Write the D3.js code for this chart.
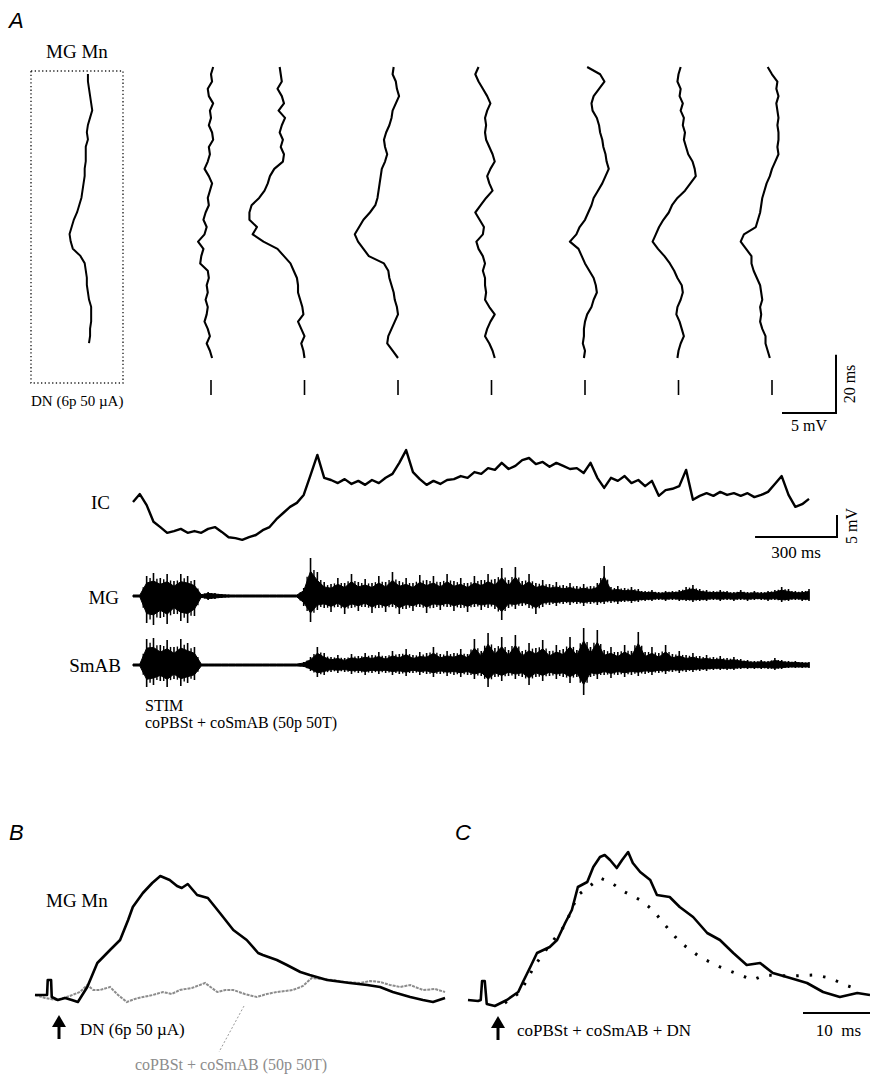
<!DOCTYPE html>
<html>
<head>
<meta charset="utf-8">
<script src="https://cdn.jsdelivr.net/npm/d3@7"></script>
<style>
  body { margin: 0; background: #fff; }
  svg { display: block; }
  .serif { font-family: "Liberation Serif", "Times New Roman", serif; fill: #000; }
  .panel { font-family: "Liberation Sans", Arial, sans-serif; font-style: italic; font-size: 22px; }
</style>
</head>
<body>
<div id="fig"></div>
<script>
// ---- A (top): single sweeps, membrane potential in mV vs rest, one value every 2.5 ms
var avgMn = [-0.1,-0.1,0,0.1,0.2,0.3,0.1,-0.1,-0.2,-0.1,-0.3,-0.3,-0.3,-0.4,-0.4,-0.5,-0.6,-0.7,-0.9,
  -1.1,-1.4,-1.6,-1.8,-1.7,-1.5,-0.8,-0.4,-0.3,-0.2,-0.2,-0.1,0,0.2,0.2,0.2,0.1,0.1,0];
var trial1 = [0.2,0,0.1,-0.3,-0.2,0.2,-0.1,0,-0.2,0.1,0.2,-0.2,-0.1,-0.3,-0.6,-0.2,0.1,-0.1,-0.3,-0.2,
  -0.5,-0.7,-0.4,-0.6,-1.2,-0.7,-0.9,-1.0,-0.3,-0.2,-0.4,-0.3,-0.5,-0.3,-0.4,-0.6,-0.3,-0.1,-0.4,-0.1,0.1];
var trial2 = [-2.3,-2.2,-2.1,-2.5,-2.1,-1.9,-2.4,-1.8,-2.1,-2.3,-2.0,-2.2,-1.9,-2.0,-2.8,-3.2,-3.4,-3.7,-4.2,-4.9,
  -5.1,-5.1,-4.4,-4.8,-3.8,-2.5,-1.9,-1.3,-1.0,-0.7,-0.6,-0.6,-0.4,-0.2,-0.1,-0.6,-0.3,0,-0.3,-0.1,0];
var trial3 = [-0.4,-0.5,-0.2,-0.1,0.1,-0.2,-0.5,-0.6,-0.8,-1.1,-1.3,-1.2,-1.0,-1.2,-1.5,-1.6,-1.7,-1.8,-1.9,-2.1,
  -2.6,-3.2,-3.6,-4.0,-3.7,-3.2,-2.7,-1.3,-0.9,-0.8,-0.6,-0.4,-0.3,-0.1,0,-0.3,-0.6,-0.9,-1.0,-0.5,0];
var trial4 = [-1.2,-1.5,-1.2,-0.8,-0.4,-0.1,-0.4,-0.6,-0.5,-0.6,-0.5,-0.2,0.1,0.3,-0.1,-0.4,-0.2,0.1,-0.5,-1.0,
  -1.5,-1.1,-0.7,-0.8,-1.4,-1.2,-0.8,-0.6,-0.8,-0.6,-0.6,-0.5,-0.6,-0.2,0.3,-0.1,-0.4,-0.6,-0.2,0.1,0.3];
var trial5 = [0.2,1.4,1.8,1.3,0.8,0.6,0.7,1.1,1.3,1.4,1.6,1.7,1.9,2.0,2.2,1.9,1.6,1.2,0.8,0.6,
  0.3,0,-0.5,-0.8,-1.4,-0.6,-0.3,0,0.4,0.8,1.0,1.1,0.8,0.6,0.2,0,-0.1,-0.1,-0.2,0,-0.1];
var trial6 = [0.2,0,-0.1,0.2,0.1,0.4,0.2,0.5,0.4,0.6,0.5,0.7,0.9,1.3,1.5,1.6,1.1,0.6,-0.1,-0.6,
  -0.9,-1.4,-1.8,-2.1,-2.4,-1.9,-1.3,-0.8,-0.4,-0.1,0.3,0.4,0.2,-0.1,-0.2,0.1,0.3,0.5,0.2,0,-0.1];
var trial7 = [-0.4,0,0.5,0.4,0.6,0.4,0.5,0.6,0.5,0.6,0.6,0.5,0.6,0.3,0,-0.2,-0.5,-0.7,-0.9,-1.0,
  -1.1,-1.3,-1.5,-2.6,-2.9,-2.4,-1.9,-1.9,-1.7,-1.4,-1.1,-1.0,-0.9,-1.1,-1.0,-1.1,-0.9,-0.6,-0.6,-0.4,-0.2];
var trials = [trial1, trial2, trial3, trial4, trial5, trial6, trial7];
var sweepStep = 2.5; // ms

// ---- A (bottom): intracellular record, mV, one value every 25 ms
var icTrace = [0,1.8,-0.7,-4.5,-5.7,-7.0,-6.6,-6.1,-7.0,-6.6,-7.0,-6.1,-5.7,-6.8,-8.0,-8.2,-8.6,-8.0,-7.5,-6.4,
  -5.7,-3.9,-2.5,-1.1,-0.2,1.6,6.1,10.7,5.5,5.0,4.3,5.2,4.1,4.8,3.9,5.0,4.3,5.5,6.4,8.9,
  11.8,6.8,5.2,3.9,4.8,4.1,5.0,5.2,5.9,5.5,6.8,6.4,7.7,7.3,8.9,7.5,8.2,9.5,10.0,8.6,
  9.1,8.0,8.9,8.2,7.5,7.7,6.6,8.9,5.5,3.2,5.5,4.8,5.9,4.3,5.0,3.6,4.8,1.4,2.7,3.0,
  3.6,7.3,0.5,1.4,2.0,1.4,2.3,1.6,2.0,1.4,2.0,1.1,1.6,2.3,4.1,5.9,1.6,-1.1,-0.5,0.7];
var icStep = 25; // ms

// ENG envelopes (a.u.), same 25 ms grid: positive and negative excursions
var mgUp = [0,1,20,23,18,22,15,22,20,16,2,4,3,2,1.5,1,1,1,1,1,1,1,1,1,1,8,38,24,14,12,18,13,22,14,17,13,20,14,24,15,
  18,13,21,16,20,14,22,15,18,13,20,16,22,17,28,16,29,15,22,13,16,12,14,11,13,10,12,10,13,30,
  9,10,8,9,7,5,6,4,5,5,6,9,11,7,6,5,6,5,4,6,4,5,4,5,6,9,7,5,5,7];
var mgDown = [0,1,27,29,22,28,18,25,27,20,2,4,3,2,1.5,1,1,1,1,1,1,1,1,1,1,10,26,14,12,16,11,18,12,15,11,17,12,16,11,18,
  13,15,11,17,12,14,11,15,12,16,11,14,12,13,24,12,13,10,12,18,11,9,10,8,9,8,10,8,9,8,
  7,8,6,7,6,5,5,4,5,4,5,5,6,5,5,4,5,4,5,4,5,4,4,5,4,6,5,4,5,5];
var smabUp = [0,1,26,27,20,25,18,26,22,18,1,1,1,1,1,1,1,1,1,1,1,1,1,1,1,3,8,18,12,8,10,7,11,9,12,10,13,9,14,11,
  16,10,13,12,18,11,14,12,16,11,26,14,32,17,28,15,30,14,22,17,25,14,20,16,28,15,37,18,35,15,
  18,13,20,14,33,13,18,12,20,11,14,10,12,9,10,8,9,7,8,6,5,4,5,4,7,5,4,4,3,3];
var smabDown = [0,1,22,20,16,22,14,21,18,15,1,1,1,1,1,1,1,1,1,1,1,1,1,1,1,2,6,12,10,7,8,7,9,8,10,8,9,8,10,9,
  11,8,10,9,12,9,11,10,12,10,14,11,22,12,16,11,14,12,20,12,16,11,14,12,18,12,30,12,14,10,
  13,10,12,10,11,9,10,8,9,7,8,7,7,6,6,5,5,5,5,4,4,4,4,4,5,4,3,3,3,3];

// ---- B and C: [ms after sweep start, mV]
var bDN = [[0,0.2],[1.8,0.2],[1.9,1.7],[2.4,1.7],[2.5,0],[3.4,-0.3],[4.5,-0.1],[5.5,-0.3],[6.4,-0.5],[7.8,1.0],
  [9.3,3.4],[11.2,4.7],[12.7,5.7],[13.9,7.7],[14.6,9.0],[16.1,10.4],[17.5,11.4],[18.7,12.1],[20.1,11.7],[21.2,11.1],
  [21.9,10.9],[22.8,11.3],[24.2,10.2],[25.8,9.9],[27.6,8.4],[29.6,6.7],[31.6,5.7],[33.3,4.4],[34.0,4.2],[36.1,3.7],
  [37.6,3.2],[39.6,2.5],[41.0,2.2],[43.6,1.7],[47.0,1.4],[49.6,1.2],[51.5,1.0],[53.4,0.5],[56.0,0],[57.9,-0.3],
  [59.4,-0.5],[61.2,-0.1]];
var bStim = [[0,0.2],[1.5,-0.1],[3.3,-0.3],[5.2,0.1],[6.7,0.5],[7.8,1.2],[8.7,0.7],[9.7,0.7],[11.2,1.0],[12.4,0.2],
  [13.7,-0.5],[14.9,-0.2],[16.1,0],[17.6,0.2],[19.1,0.5],[20.4,0.3],[21.6,0.7],[23.4,0.9],[25.4,1.4],[26.4,0.9],
  [27.2,0.5],[28.4,0.7],[29.6,0.7],[31.3,0.3],[33.1,0],[34.6,0.3],[36.1,0.5],[37.3,0.6],[38.5,0.7],[40.0,1.1],
  [41.3,1.9],[42.8,1.8],[44.5,1.7],[46.3,1.5],[48.5,1.4],[50.0,1.6],[51.5,1.5],[53.0,1.2],[54.5,1.0],[56.0,1.2],
  [57.9,0.7],[59.7,0.8],[61.2,0.5]];
var cComb = [[0,0],[1.5,-0.1],[1.9,0],[2.1,1.9],[2.5,1.9],[2.8,-0.4],[4.0,-0.6],[5.8,0],[7.5,0.8],[8.2,1.8],
  [9.3,3.3],[10.3,4.7],[12.2,5.3],[13.3,6.0],[14.5,7.7],[15.5,9.0],[16.4,11.3],[17.8,11.8],[18.7,13.3],[19.7,14.3],
  [20.4,14.5],[21.2,14.0],[22.2,13.2],[23.0,14.0],[23.9,14.8],[24.6,13.7],[25.7,12.8],[27.2,12.0],[28.2,10.5],[30.1,10.3],
  [31.6,9.3],[33.6,8.3],[35.7,6.7],[37.6,6.0],[39.6,4.7],[41.6,3.5],[43.6,3.7],[45.5,2.7],[48.1,2.2],[50.6,1.7],
  [53.0,0.8],[55.5,0.3],[58.1,0.7],[60.0,0.5]];
var cSum = [[5.5,-0.3],[7.8,0.8],[10.0,3.5],[12.2,5.5],[14.5,7.5],[16.4,10.5],[17.8,11.2],[19.7,12.2],[21.2,11.8],[23.4,10.8],
  [25.7,10.0],[27.6,9.0],[29.4,7.5],[31.6,5.8],[34.6,4.3],[37.6,3.3],[40.6,2.5],[42.5,2.0],[44.3,2.5],[48.1,2.4],
  [51.8,2.5],[54.0,2.2],[56.3,1.5],[58.5,1.0]];

var W = 870, H = 1078;
var svg = d3.select("#fig").append("svg")
  .attr("width", W)
  .attr("height", H)
  .attr("viewBox", `0 0 ${W} ${H}`);

svg.append("rect").attr("width", W).attr("height", H).attr("fill", "#fff");

function label(x, y, txt, size, anchor) {
  return svg.append("text")
    .attr("class", "serif")
    .attr("x", x)
    .attr("y", y)
    .attr("font-size", size)
    .attr("text-anchor", anchor || "start")
    .style("white-space", "pre")
    .text(txt);
}

// ================= A top =================
svg.append("text").attr("class", "panel").attr("x", 9).attr("y", 28).text("A");

var tA = d3.scaleLinear().domain([0, 100]).range([67, 358]);   // time runs down the page
var mvA = d3.scaleLinear().domain([0, 5]).range([0, 54]);      // mV to the right
var colA = d3.scalePoint().domain(d3.range(trials.length)).range([211, 772]);

// framed sweep
svg.append("rect")
  .attr("x", 31).attr("y", 71).attr("width", 92).attr("height", 312)
  .attr("fill", "none").attr("stroke", "#222").attr("stroke-width", 1.4)
  .attr("stroke-dasharray", "1.3,2.4");

var tBox = tA.copy().range([74, 365]);
svg.append("path")
  .datum(avgMn)
  .attr("d", d3.line().x(d => 89 + mvA(d)).y((d, i) => tBox(i * sweepStep)))
  .attr("fill", "none").attr("stroke", "#000").attr("stroke-width", 2);

label(77, 58, "MG Mn", 19, "middle");
label(31, 406, "DN (6p 50 µA)", 15);

trials.forEach(function(tr, j) {
  var x0 = colA(j);
  svg.append("path")
    .datum(tr)
    .attr("d", d3.line().x(d => x0 + mvA(d)).y((d, i) => tA(i * sweepStep)))
    .attr("fill", "none").attr("stroke", "#000").attr("stroke-width", 2.1)
    .attr("stroke-linejoin", "round");
  svg.append("line")
    .attr("x1", x0).attr("x2", x0).attr("y1", 380).attr("y2", 395)
    .attr("stroke", "#000").attr("stroke-width", 1.6);
});

// scale bars: 20 ms (vertical) / 5 mV (horizontal)
var sbX = 836, sbY = 413;
svg.append("path")
  .attr("d", `M${sbX},${sbY - (tA(20) - tA(0))}V${sbY}H${sbX - mvA(5)}`)
  .attr("fill", "none").attr("stroke", "#000").attr("stroke-width", 2);
label(0, 0, "20 ms", 16, "middle").attr("transform", `translate(855,${sbY - 29}) rotate(-90)`);
label(sbX - mvA(5) / 2, 431, "5 mV", 16, "middle");

// ================= A bottom: IC + ENGs =================
var tIC = d3.scaleLinear().domain([0, 2475]).range([133, 809]);
var vIC = d3.scaleLinear().domain([0, 5]).range([502, 480]);

svg.append("path")
  .datum(icTrace)
  .attr("d", d3.line().x((d, i) => tIC(i * icStep)).y(d => vIC(d)))
  .attr("fill", "none").attr("stroke", "#000").attr("stroke-width", 2.4)
  .attr("stroke-linejoin", "round");

label(110, 509, "IC", 19, "end");

// 300 ms / 5 mV bar
var icBarX = 837, icBarY = 537;
svg.append("path")
  .attr("d", `M${icBarX},${vIC(5) - vIC(0) + icBarY}V${icBarY}H${icBarX - (tIC(300) - tIC(0))}`)
  .attr("fill", "none").attr("stroke", "#000").attr("stroke-width", 2);
label(icBarX - (tIC(300) - tIC(0)) / 2, 558, "300 ms", 17, "middle");
label(0, 0, "5 mV", 16, "middle").attr("transform", `translate(857,${icBarY - 11}) rotate(-90)`);

// ENG: dense core band plus individual spikes out to the read envelope
function eng(up, down, base) {
  var g = svg.append("g");
  g.append("path")
    .datum(up)
    .attr("d", d3.area()
      .x((d, i) => tIC(i * icStep))
      .y0((d, i) => base + Math.max(1, down[i] * 0.65))
      .y1((d, i) => base - Math.max(1, up[i] * 0.65)))
    .attr("fill", "#000").attr("stroke", "#000").attr("stroke-width", 1);
  g.selectAll("line.spike")
    .data(up)
    .join("line")
    .attr("class", "spike")
    .attr("x1", (d, i) => tIC(i * icStep)).attr("x2", (d, i) => tIC(i * icStep))
    .attr("y1", d => base - d).attr("y2", (d, i) => base + down[i])
    .attr("stroke", "#000").attr("stroke-width", 1.6);
  g.selectAll("line.mid")
    .data(up.slice(1))
    .join("line")
    .attr("class", "mid")
    .attr("x1", (d, i) => tIC((i + 0.5) * icStep)).attr("x2", (d, i) => tIC((i + 0.5) * icStep))
    .attr("y1", (d, i) => base - (up[i] + d) * 0.42).attr("y2", (d, i) => base + (down[i] + down[i + 1]) * 0.42)
    .attr("stroke", "#000").attr("stroke-width", 1.4);
}
eng(mgUp, mgDown, 596);
eng(smabUp, smabDown, 665);

label(119, 604, "MG", 19, "end");
label(121, 672, "SmAB", 19, "end");
label(145, 711, "STIM", 16);
label(145, 728, "coPBSt + coSmAB (50p 50T)", 16);

// ================= B =================
svg.append("text").attr("class", "panel").attr("x", 9).attr("y", 840).text("B");

var msBC = d3.scaleLinear().domain([0, 10]).range([0, 67]);
var mvBC = d3.scaleLinear().domain([0, 1]).range([0, 10]);

function trace(x0, y0) {
  return d3.line().x(d => x0 + msBC(d[0])).y(d => y0 - mvBC(d[1]));
}

svg.append("path")
  .datum(bStim)
  .attr("d", trace(35, 997))
  .attr("fill", "none").attr("stroke", "#8c8c8c").attr("stroke-width", 2)
  .attr("stroke-dasharray", "3,1");
svg.append("path")
  .datum(bDN)
  .attr("d", trace(35, 997))
  .attr("fill", "none").attr("stroke", "#000").attr("stroke-width", 2.6)
  .attr("stroke-linejoin", "round");

label(46, 907, "MG Mn", 19);

function arrow(x, yTip) {
  svg.append("line")
    .attr("x1", x).attr("x2", x).attr("y1", yTip + 8).attr("y2", yTip + 24)
    .attr("stroke", "#000").attr("stroke-width", 3);
  svg.append("path")
    .attr("d", `M${x},${yTip}L${x + 7},${yTip + 12}L${x - 7},${yTip + 12}Z`)
    .attr("fill", "#000");
}
arrow(59, 1015);
label(80, 1035, "DN (6p 50 µA)", 17);

svg.append("line")
  .attr("x1", 244).attr("y1", 1006).attr("x2", 219).attr("y2", 1052)
  .attr("stroke", "#9a9a9a").attr("stroke-width", 1).attr("stroke-dasharray", "2,2");
label(135, 1070, "coPBSt + coSmAB (50p 50T)", 16).style("fill", "#8c8c8c");

// ================= C =================
svg.append("text").attr("class", "panel").attr("x", 455).attr("y", 840).text("C");

svg.append("path")
  .datum(cSum)
  .attr("d", trace(468, 1000))
  .attr("fill", "none").attr("stroke", "#000").attr("stroke-width", 3)
  .attr("stroke-dasharray", "2.5,11");
svg.append("path")
  .datum(cComb)
  .attr("d", trace(468, 1000))
  .attr("fill", "none").attr("stroke", "#000").attr("stroke-width", 2.6)
  .attr("stroke-linejoin", "round");

arrow(498, 1016);
label(517, 1036, "coPBSt + coSmAB + DN", 17);

svg.append("line")
  .attr("x1", 870 - msBC(10)).attr("x2", 870).attr("y1", 1013).attr("y2", 1013)
  .attr("stroke", "#000").attr("stroke-width", 2);
label(870 - msBC(10) / 2 + 2, 1036, "10  ms", 17, "middle");
</script>
</body>
</html>
